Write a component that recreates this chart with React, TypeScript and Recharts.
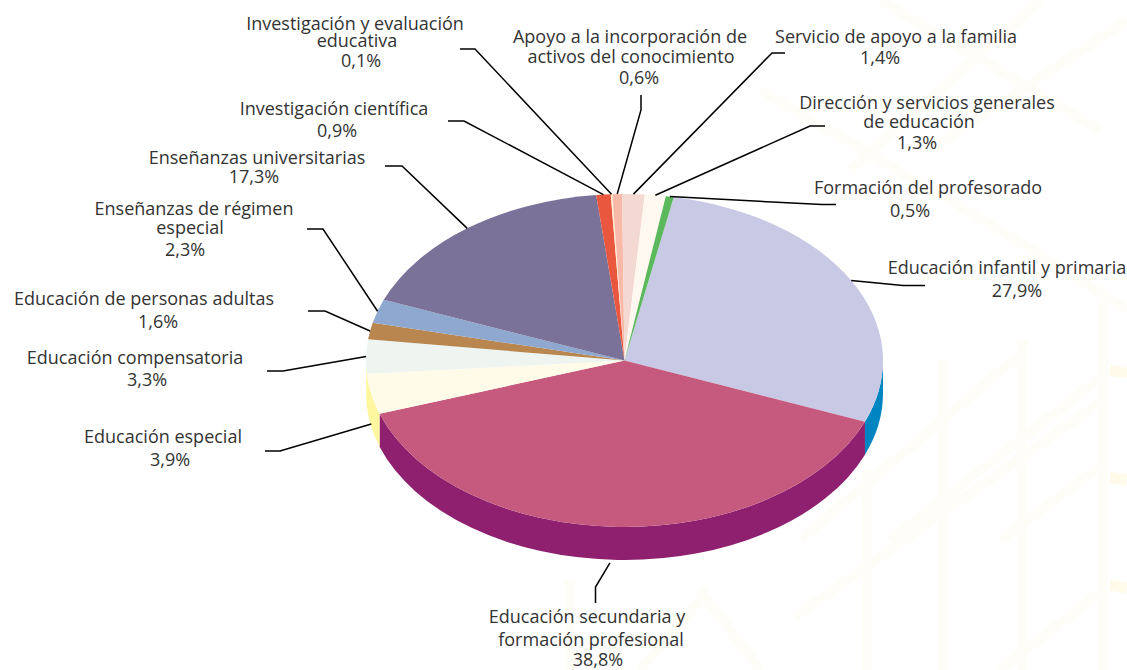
import React from 'react'
import { PieChart, Pie } from 'recharts'

const categories = [
  'Educación infantil y primaria',
  'Educación secundaria y formación profesional',
  'Educación especial',
  'Educación compensatoria',
  'Educación de personas adultas',
  'Enseñanzas de régimen especial',
  'Enseñanzas universitarias',
  'Investigación científica',
  'Investigación y evaluación educativa',
  'Apoyo a la incorporación de activos del conocimiento',
  'Servicio de apoyo a la familia',
  'Dirección y servicios generales de educación',
  'Formación del profesorado',
]
const shares = [27.9, 38.8, 3.9, 3.3, 1.6, 2.3, 17.3, 0.9, 0.1, 0.6, 1.4, 1.3, 0.5]
const labelLines = [
  ['Educación infantil y primaria'],
  ['Educación secundaria y', 'formación profesional'],
  ['Educación especial'],
  ['Educación compensatoria'],
  ['Educación de personas adultas'],
  ['Enseñanzas de régimen', 'especial'],
  ['Enseñanzas universitarias'],
  ['Investigación científica'],
  ['Investigación y evaluación', 'educativa'],
  ['Apoyo a la incorporación de', 'activos del conocimiento'],
  ['Servicio de apoyo a la familia'],
  ['Dirección y servicios generales', 'de educación'],
  ['Formación del profesorado'],
]
const topColors = ['#c8c9e4', '#c6597e', '#fffbe8', '#eef5f1', '#b8864e', '#8fa8cf', '#7a7299', '#e9573f', '#fdeed0', '#f9b9a8', '#f3d9d2', '#fff8f0', '#5cb85c']
const wallColors = ['#0085c0', '#8f1f6f', '#fff7a0', '#fff7a0', '#fff7a0', '#fff7a0', '#fff7a0', '#fff7a0', '#fff7a0', '#fff7a0', '#fff7a0', '#fff7a0', '#fff7a0']

const rows = categories.map((name, i) => ({ name, value: shares[i] }))

// where each label sits: centre and baseline of each line, elbow and end of the leader
const labelPos = [
  { x: [1007, 1017], y: [274, 297], elbow: [903, 285.5], end: [925, 285.5] },
  { x: [587, 591, 598], y: [623, 646, 666], elbow: [595.5, 587], end: [595.5, 603], shift: [-8, 6] },
  { x: [163, 170], y: [443, 466], elbow: [280, 451], end: [265, 451] },
  { x: [135, 147], y: [364, 386], elbow: [283, 371], end: [267, 371] },
  { x: [144, 158], y: [305, 328], elbow: [325, 311], end: [308, 311] },
  { x: [194, 190, 185], y: [215, 234, 256], elbow: [323, 229], end: [307, 229] },
  { x: [257, 254], y: [164, 183], elbow: [402, 166], end: [385, 166] },
  { x: [334, 337], y: [115, 137], elbow: [464, 121], end: [448, 121] },
  { x: [355, 357, 361], y: [30, 47, 67], elbow: [475, 49], end: [460, 49] },
  { x: [630, 631, 639], y: [43, 63, 84], elbow: [641, 110], end: [641, 95] },
  { x: [896, 880], y: [43, 64], elbow: [772, 53], end: [785, 53] },
  { x: [927, 919, 917], y: [109, 128, 149], elbow: [810, 126], end: [825, 126] },
  { x: [928, 910], y: [194, 217], elbow: [822, 204.5], end: [836, 204.5] },
]

// the faint lattice printed behind the chart
const latticeBands = [
  'M867,470V670', 'M943,360V670', 'M1022,340V670', 'M1103,300V670',
  'M800,540L1017,357', 'M890,540L1107,373', 'M1000,540L1100,467', 'M795,617L1103,400', 'M1000,670L1103,590',
  'M880,0L1100,130', 'M760,90L1000,230', 'M1127,20L930,150', 'M1040,0L850,170', 'M1000,230L1127,310',
  'M640,670L700,600', 'M570,580V670', 'M700,590L760,670',
]
const creamTabs = ['M1110,370L1127,373', 'M1110,477L1127,480', 'M1110,585L1127,588']

const W = 1127
const H = 670
const CX = 624.5
const CY = 360.5
const RX = 258.5
const SQUASH = 166.5 / 258.5
const DEPTH = 33
const START = 79

const RAD = Math.PI / 180
const px = (cx: number, r: number, a: number) => cx + r * Math.cos(a * RAD)
const py = (cy: number, r: number, a: number) => cy - r * SQUASH * Math.sin(a * RAD)

// flat ellipse slice instead of the circular sector
const TopSlice = ({ cx, cy, outerRadius: r, startAngle, endAngle, index }: any) => {
  const ry = r * SQUASH
  const large = startAngle - endAngle > 180 ? 1 : 0
  const d = `M${cx},${cy} L${px(cx, r, startAngle)},${py(cy, r, startAngle)} A${r},${ry} 0 ${large} 1 ${px(cx, r, endAngle)},${py(cy, r, endAngle)} Z`
  return <path d={d} fill={topColors[index]} />
}

// side of the pie, only the part that faces the viewer
const WallSlice = ({ cx, cy, outerRadius: r, startAngle, endAngle, index }: any) => {
  const a1 = Math.min(startAngle, 0)
  const a2 = Math.max(endAngle, -180)
  if (a1 <= a2) return <g />
  const ry = r * SQUASH
  const d = `M${px(cx, r, a1)},${py(cy, r, a1)} A${r},${ry} 0 0 1 ${px(cx, r, a2)},${py(cy, r, a2)} L${px(cx, r, a2)},${py(cy, r, a2) + DEPTH} A${r},${ry} 0 0 0 ${px(cx, r, a1)},${py(cy, r, a1) + DEPTH} Z`
  return <path d={d} fill={wallColors[index]} />
}

const SliceLabel = ({ cx, cy, outerRadius: r, midAngle, index }: any) => {
  const pos = labelPos[index]
  const lift = index === 1 || index === 2 ? DEPTH - 3 : 0
  const shift = pos.shift || [0, 0]
  const sx = px(cx, r, midAngle) + shift[0]
  const sy = py(cy, r, midAngle) + lift + shift[1]
  const lines = [...labelLines[index], `${shares[index].toFixed(1).replace('.', ',')}%`]
  return (
    <g>
      <polyline
        points={`${sx},${sy} ${pos.elbow[0]},${pos.elbow[1]} ${pos.end[0]},${pos.end[1]}`}
        fill="none"
        stroke="#000"
        strokeWidth={1.5}
      />
      {lines.map((line, i) => (
        <text key={i} x={pos.x[i]} y={pos.y[i]} textAnchor="middle" fontFamily="'Open Sans', sans-serif" fontSize={18} fill="#333">
          {line}
        </text>
      ))}
    </g>
  )
}

export default function App() {
  return (
    <div style={{ position: 'absolute', left: 0, top: 0, width: W, height: H, background: '#fff' }}>
      <svg width={W} height={H} style={{ position: 'absolute', left: 0, top: 0 }}>
        {latticeBands.map((d, i) => (
          <path key={i} d={d} fill="none" stroke="#fffdf8" strokeWidth={10} />
        ))}
        {creamTabs.map((d, i) => (
          <path key={i} d={d} fill="none" stroke="#fffaea" strokeWidth={11} />
        ))}
      </svg>
      <div style={{ position: 'absolute', left: 0, top: 0 }}>
        <PieChart width={W} height={H} margin={{ top: 0, right: 0, bottom: 0, left: 0 }}>
          <Pie
            data={rows}
            dataKey="value"
            nameKey="name"
            cx={CX}
            cy={CY}
            outerRadius={RX}
            startAngle={START}
            endAngle={START - 360}
            shape={WallSlice}
            label={false}
            labelLine={false}
            isAnimationActive={false}
          />
          <Pie
            data={rows}
            dataKey="value"
            nameKey="name"
            cx={CX}
            cy={CY}
            outerRadius={RX}
            startAngle={START}
            endAngle={START - 360}
            shape={TopSlice}
            label={SliceLabel}
            labelLine={false}
            isAnimationActive={false}
          />
        </PieChart>
      </div>
    </div>
  )
}
